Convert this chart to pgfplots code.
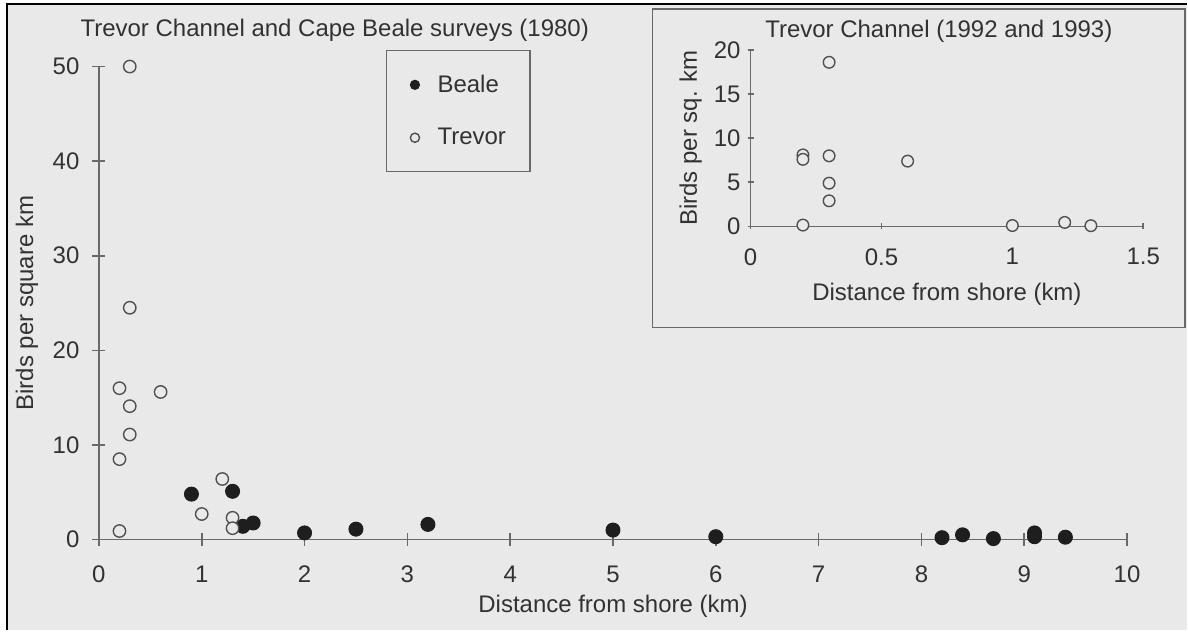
\documentclass[border=0pt]{standalone}
\usepackage{fontspec}
\setmainfont{Liberation Sans}
\usepackage{pgfplots}
\pgfplotsset{compat=1.18}
\definecolor{bg}{RGB}{233,233,233}
\definecolor{txt}{RGB}{50,50,50}
\definecolor{axc}{RGB}{105,105,105}
\definecolor{mk}{RGB}{30,30,30}
\definecolor{omk}{RGB}{80,80,80}
\newcommand{\fnt}{\fontsize{12bp}{14bp}\selectfont}
\pgfplotsset{
  mystyle/.style={
    scale only axis, enlargelimits=false, clip=false,
    axis x line=bottom, axis y line=left,
    axis line style={-, axc, line width=0.8bp},
    tick style={axc, line width=0.8bp},
    tick align=center,
    ticklabel style={font=\fnt, text=txt},
    label style={font=\fnt, text=txt},
    /pgf/number format/assume math mode=true,
    legend image code/.code={\draw[#1, mark size=2.3bp] plot coordinates {(0bp,0bp)};},
  },
  beale/.style={only marks, mark=*, mark size=3.5bp, mark options={fill=mk, draw=mk, line width=0.5bp}},
  trevor/.style={only marks, mark=*, mark size=3.1bp, mark options={fill=bg, draw=omk, line width=0.7bp}},
}
\begin{document}
\begin{tikzpicture}
\fill[white] (0,0) rectangle (594bp,315.5bp);
\fill[bg] (3.5bp,0) rectangle (594bp,313.5bp);
\draw[black, line width=1bp] (3.5bp,0) -- (3.5bp,313.5bp) -- (594bp,313.5bp);
\useasboundingbox (0,0) rectangle (594bp,315.5bp);
\draw[axc, line width=0.7bp] (326.5bp,151.5bp) rectangle (593bp,311bp);

\node[font=\fnt, text=txt] at (167.5bp,300.5bp) {Trevor Channel and Cape Beale surveys (1980)};
\node[font=\fnt, text=txt] at (469.8bp,299.6bp) {Trevor Channel (1992 and 1993)};

\begin{axis}[mystyle,
  at={(49.5bp,45.5bp)}, anchor=south west,
  width=514.5bp, height=236.7bp,
  xmin=0, xmax=10, ymin=0, ymax=50,
  xtick={0,1,...,10}, ytick={0,10,...,50},
  major tick length=6.5bp,
  xticklabel style={anchor=north, yshift=-6.5bp},
  yticklabel style={anchor=east, xshift=-3bp},
  xlabel={Distance from shore (km)},
  ylabel={Birds per square km},
  xlabel style={at={(axis description cs:0.5,-0.1416)}, anchor=center},
  ylabel style={at={(axis description cs:-0.07,0.5)}, anchor=center},
  legend style={at={(axis description cs:0.2789,1.035)}, anchor=north west,
    draw=axc, fill=none, line width=0.7bp, font=\fnt, text=txt,
    nodes={inner sep=0pt},
    /tikz/every odd column/.append style={column sep=9bp},
    inner xsep=12bp, inner ysep=12bp, row sep=16.5bp,
    cells={anchor=west}},
]
\addplot[beale] coordinates {
(0.9,4.8) (1.3,5.1) (1.4,1.4) (1.5,1.75) (2.0,0.7) (2.5,1.1) (3.2,1.6)
(5.0,1.0) (6.0,0.3) (8.2,0.2) (8.4,0.5) (8.7,0.1) (9.1,0.7) (9.1,0.3) (9.4,0.25)
};
\addlegendentry{Beale}
\addplot[trevor] coordinates {
(0.3,50) (0.3,24.5) (0.2,16.0) (0.3,14.1) (0.6,15.6) (0.3,11.1) (0.2,8.5)
(0.2,0.9) (1.2,6.4) (1.0,2.7) (1.3,2.3) (1.3,1.2)
};
\addlegendentry{Trevor}
\end{axis}

\begin{axis}[mystyle,
  at={(375.6bp,202.2bp)}, anchor=south west,
  width=196.5bp, height=88.3bp,
  xmin=0, xmax=1.5, ymin=0, ymax=20,
  xtick={0,0.5,1,1.5}, ytick={0,5,...,20},
  major tick length=3bp,
  xticklabel style={anchor=north, yshift=-6bp},
  yticklabel style={anchor=east, xshift=0bp},
  xlabel={Distance from shore (km)},
  ylabel={Birds per sq. km},
  xlabel style={at={(axis description cs:0.5,-0.385)}, anchor=center},
  ylabel style={at={(axis description cs:-0.1527,0.5)}, anchor=center},
]
\addplot[trevor, mark size=2.9bp] coordinates {
(0.2,0.15) (0.2,8.1) (0.2,7.6) (0.3,18.6) (0.3,8.0) (0.3,4.9) (0.3,2.9)
(0.6,7.4) (1.0,0.1) (1.2,0.45) (1.3,0.08)
};
\end{axis}
\end{tikzpicture}
\end{document}
